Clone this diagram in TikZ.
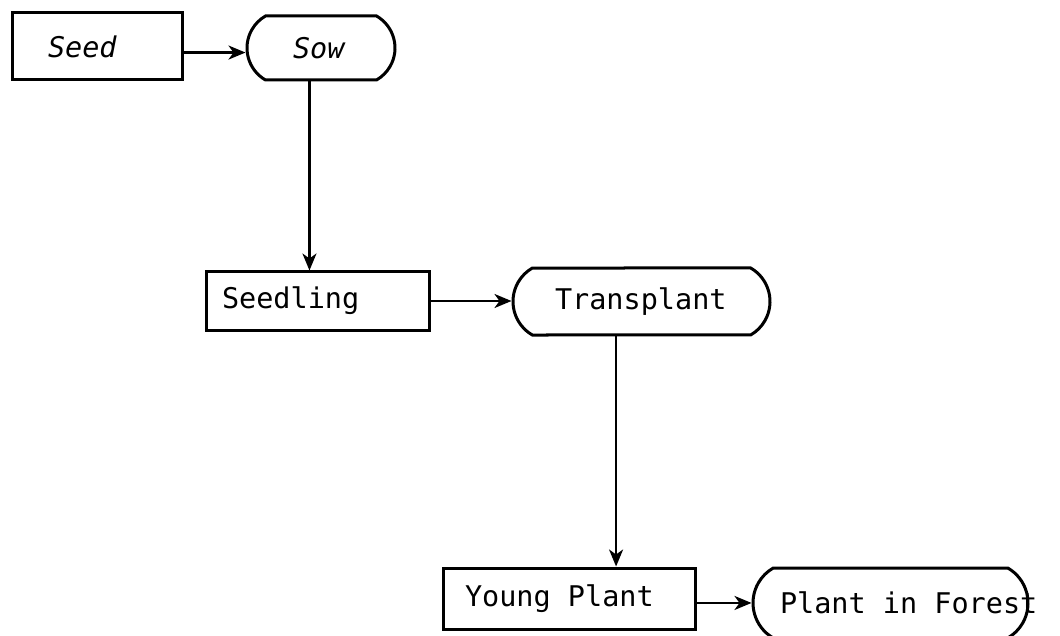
\documentclass[tikz,border=0pt]{standalone}
\usepackage{fontspec}
\setmonofont{DejaVu Sans Mono}
\usetikzlibrary{shapes.misc,arrows.meta}
\begin{document}
\begin{tikzpicture}[x=1pt,y=-1pt,
  stage/.style={draw,rectangle,line width=3pt,inner sep=0pt,
    font=\ttfamily\fontsize{28.5}{30}\selectfont},
  action/.style={draw,rounded rectangle,rounded rectangle arc length=120,
    line width=3pt,inner sep=0pt,font=\ttfamily\fontsize{28.5}{30}\selectfont},
  flow/.style={-{Stealth[length=17pt,width=14pt,inset=5pt]},line width=2.4pt}]
\useasboundingbox (0,0) rectangle (1060,636);
\node[stage,minimum width=170pt,minimum height=67pt] (seed) at (97,46.5)
  {\makebox[98pt][l]{\itshape Seed}};
\node[action,minimum width=148pt,minimum height=64pt] (sow) at (321,48)
  {\makebox[56pt][l]{\itshape Sow}};
\node[stage,minimum width=223pt,minimum height=58pt] (seedling) at (317.5,301)
  {\makebox[191pt][l]{Seedling}};
\node[action,minimum width=257pt,minimum height=67pt] (transplant) at (641.5,301.5)
  {\makebox[173pt][l]{Transplant}};
\node[stage,minimum width=252pt,minimum height=61pt] (young) at (569,598.5)
  {\makebox[208pt][l]{Young Plant}};
\node[action,minimum width=275pt,minimum height=70pt] (forest) at (890.5,603)
  {\makebox[221pt][l]{Plant in Forest}};
% flow of the stages
\draw[flow] (seed.-4) -- (seed.-4 -| sow.west);
\draw[flow] (sow.251) -- (sow.251 |- seedling.north);
\draw[flow] (seedling.east) -- (seedling.east -| transplant.west);
\draw[flow] (transplant.234) -- (transplant.234 |- young.north);
\draw[flow] (young.-2.5) -- (young.-2.5 -| forest.west);
\end{tikzpicture}
\end{document}
